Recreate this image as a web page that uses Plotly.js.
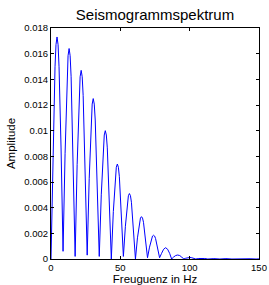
<!DOCTYPE html>
<html>
<head>
<meta charset="utf-8">
<script src="https://cdn.plot.ly/plotly-3.0.1.min.js"></script>
<style>html,body{margin:0;padding:0;background:#fff;}#chart{width:269px;height:285px;}</style>
</head>
<body>
<div id="chart"></div>
<script>
// Frequency samples (Hz)
const freq = [0,1.45,2.9,3.6,4.35,5.1,5.8,7.25,8.7,10.15,11.6,12.3,13.05,13.8,14.5,15.95,17.4,18.85,20.3,21,21.75,22.5,23.2,24.65,26.1,27.55,29,29.7,30.45,31.2,31.9,33.35,34.8,36.25,37.7,38.4,39.15,39.9,40.6,42.05,43.5,44.95,46.4,47.1,47.85,48.6,49.3,50.75,52.2,53.65,55.1,55.8,56.55,57.3,58,59.45,60.9,62.35,63.8,64.5,65.25,66,66.7,68.15,69.6,71.05,72.5,73.2,73.95,74.7,75.4,76.85,78.3,79.75,81.2,82.65,84.1,85.55,87,88.45,89.9,91.35,92.8,94.25,95.7,97.15,98.6,100.05,101.5,102.95,104.4,106.6,108.75,110.9,113.1,117.45,121.8,126.15,130.5,134.85,139.2,143.55,147.9,150];
// Amplitude values
const amplitude = [0,0.00865,0.01498,0.0167,0.0173,0.0167,0.01498,0.00865,0.0006,0.0082,0.0142,0.01584,0.0164,0.01584,0.0142,0.0082,0.0002,0.00735,0.01273,0.0142,0.0147,0.0142,0.01273,0.00735,0.0003,0.00625,0.01083,0.01207,0.0125,0.01207,0.01083,0.00625,0.0002,0.005,0.00866,0.00966,0.0100,0.00966,0.00866,0.005,0,0.0037,0.00641,0.00715,0.0074,0.00715,0.00641,0.0037,0.0002,0.00255,0.00442,0.00493,0.0051,0.00493,0.00442,0.00255,0,0.00165,0.00286,0.00319,0.0033,0.00319,0.00286,0.00165,0.0001,0.000925,0.0016,0.00179,0.00185,0.00179,0.0016,0.000925,0.0001,0.00044,0.00076,0.00088,0.00076,0.00044,0,0.000155,0.00027,0.00031,0.00027,0.000155,0,0.00006,0.0001,0.00012,0.0001,0.00006,0,0.00004,0.00005,0.00004,0,0.00003,0,0.00003,0,0.00002,0,0.00002,0,0.00001];
const xTicks = [0,50,100,150];
const xTickLabels = ["0","50","100","150"];
const yTicks = [0,0.002,0.004,0.006,0.008,0.01,0.012,0.014,0.016,0.018];
const yTickLabels = ["0","0.002","0.004","0.006","0.008","0.01","0.012","0.014","0.016","0.018"];

const fontFam = "Liberation Sans, Arial, Helvetica, sans-serif";
const axisCommon = {
  showgrid:false, zeroline:false, showline:true, linecolor:'#000', linewidth:1,
  mirror:'ticks', ticks:'inside', ticklen:3, tickwidth:1, tickcolor:'#000',
  tickfont:{family:fontFam,size:9.5,color:'#000'}
};
Plotly.newPlot('chart',[{
  x:freq, y:amplitude, type:'scatter', mode:'lines',
  line:{color:'#0000ff',width:1}, hoverinfo:'skip'
}],{
  width:269,height:285,
  margin:{l:51,r:10,t:28,b:26,pad:0},
  paper_bgcolor:'#fff',plot_bgcolor:'#fff',
  showlegend:false,
  title:{text:'Seismogrammspektrum',font:{family:fontFam,size:15,color:'#000'},x:0.5,xref:'paper',xanchor:'center',y:0.95,yref:'container',yanchor:'middle'},
  xaxis:Object.assign({},axisCommon,{range:[0,150],tickvals:xTicks,ticktext:xTickLabels,
    title:{text:'Freuguenz in Hz',font:{family:fontFam,size:11.5,color:'#000'},standoff:0}}),
  yaxis:Object.assign({},axisCommon,{range:[0,0.018],tickvals:yTicks,ticktext:yTickLabels,
    title:{text:'Amplitude',font:{family:fontFam,size:11.5,color:'#000'},standoff:6}})
},{staticPlot:true,displayModeBar:false});
</script>
</body>
</html>
